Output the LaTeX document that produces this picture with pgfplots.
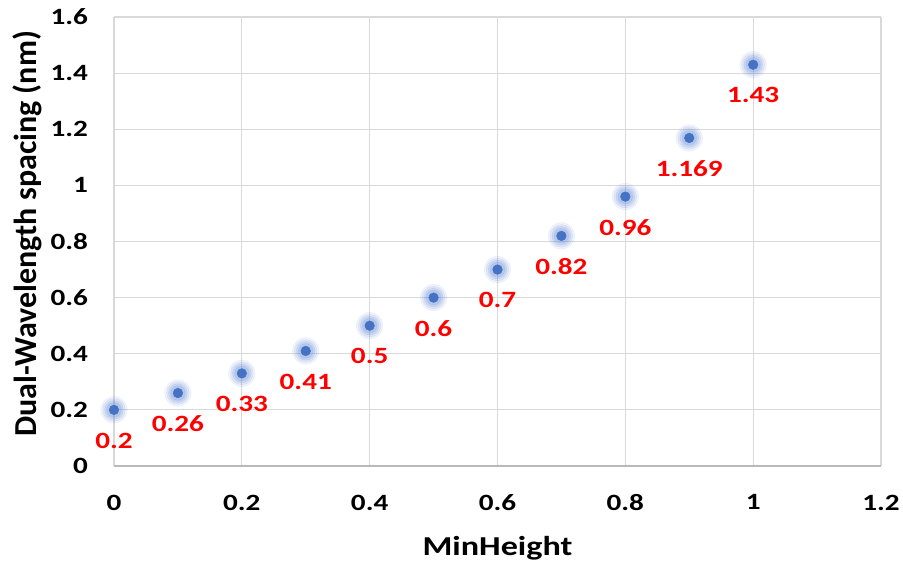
\documentclass[border=0pt]{standalone}
\usepackage{pgfplots}
\pgfplotsset{compat=1.18}
\usepackage{fontspec}
\setmainfont{Carlito}[FakeStretch=1.25]
\newfontfamily\ylabfont{Carlito}[FakeStretch=1.0]
\definecolor{ptblue}{RGB}{68,114,196}
\definecolor{glowblue}{RGB}{110,145,215}
\definecolor{gridgray}{RGB}{217,217,217}
\definecolor{lblred}{RGB}{255,0,0}
\begin{document}
\begin{tikzpicture}
\useasboundingbox (-85.5pt,-77.25pt) rectangle (591.75pt,349.5pt);
\begin{axis}[
  at={(0,0)}, anchor=origin,
  scale only axis,
  width=575.25pt, height=336.75pt,
  xmin=0, xmax=1.2, ymin=0, ymax=1.6,
  xtick={0,0.2,...,1.21}, ytick={0,0.2,...,1.61},
  xticklabels={0,0.2,0.4,0.6,0.8,1,1.2},
  yticklabels={0,0.2,0.4,0.6,0.8,1,1.2,1.4,1.6},
  grid=major,
  grid style={draw=gridgray, line width=0.9pt},
  axis lines*=left,
  x axis line style={draw=gray!55, line width=0.9pt, -},
  y axis line style={draw=none, -},
  major tick length=0pt,
  tick style={draw=none},
  /pgf/number format/assume math mode=true,
  ticklabel style={font=\fontsize{17.5}{20}\selectfont\bfseries},
  xticklabel style={yshift=-18pt},
  yticklabel style={xshift=-16pt},
  xlabel={MinHeight},
  ylabel={Dual-Wavelength spacing (nm)},
  xlabel style={font=\fontsize{20.5}{24}\selectfont\bfseries, at={(axis description cs:0.5,-0.183)}, anchor=center},
  ylabel style={font=\fontsize{24}{28}\ylabfont\bfseries, at={(axis description cs:-0.113,0.517)}, anchor=center, rotate=0},
  clip=false,
]
\pgfplotstableread{
x y lbl
0 0.2 0.2
0.1 0.26 0.26
0.2 0.33 0.33
0.3 0.41 0.41
0.4 0.5 0.5
0.5 0.6 0.6
0.6 0.7 0.7
0.7 0.82 0.82
0.8 0.96 0.96
0.9 1.169 1.169
1.0 1.43 1.43
}\datatable
\addplot[only marks, mark=*, mark size=10pt, color=glowblue, opacity=0.10] table[x=x,y=y] {\datatable};
\addplot[only marks, mark=*, mark size=8.5pt, color=glowblue, opacity=0.14] table[x=x,y=y] {\datatable};
\addplot[only marks, mark=*, mark size=7pt, color=glowblue, opacity=0.18] table[x=x,y=y] {\datatable};
\addplot[only marks, mark=*, mark size=5.5pt, color=glowblue, opacity=0.22] table[x=x,y=y] {\datatable};
\addplot[only marks, mark=*, mark size=3.6pt, color=ptblue,
  point meta=explicit symbolic,
  nodes near coords,
  nodes near coords style={anchor=center, yshift=-23pt, text=lblred, font=\fontsize{17.5}{20}\selectfont\bfseries}]
  table[x=x,y=y,meta=lbl] {\datatable};
\end{axis}
\end{tikzpicture}
\end{document}
